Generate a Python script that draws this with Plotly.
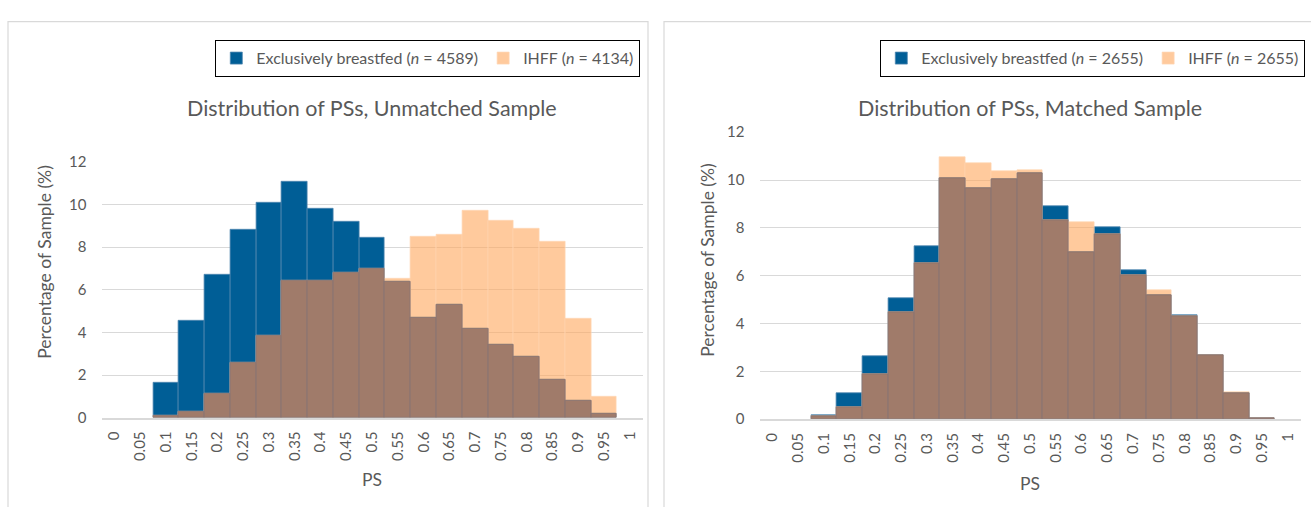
import numpy as np
import plotly.graph_objects as go

W, H = 1311, 507

ps_labels = ["0", "0.05", "0.1", "0.15", "0.2", "0.25", "0.3", "0.35", "0.4", "0.45", "0.5",
             "0.55", "0.6", "0.65", "0.7", "0.75", "0.8", "0.85", "0.9", "0.95", "1"]

unmatched_ebf = [0, 0, 1.66, 4.54, 6.71, 8.81, 10.06, 11.06, 9.79, 9.19, 8.42,
                 6.36, 4.71, 5.31, 4.18, 3.42, 2.84, 1.78, 0.81, 0.17, 0]
unmatched_ihff = [0, 0, 0.08, 0.29, 1.12, 2.58, 3.85, 6.41, 6.43, 6.80, 6.98,
                  6.50, 8.49, 8.58, 9.70, 9.22, 8.88, 8.27, 4.63, 0.97, 0]

matched_ebf = [0, 0, 0.17, 1.08, 2.65, 5.07, 7.22, 10.09, 9.64, 10.05, 10.28,
               8.91, 6.99, 8.01, 6.24, 5.17, 4.35, 2.66, 1.10, 0.05, 0]
matched_ihff = [0, 0, 0.12, 0.51, 1.90, 4.46, 6.52, 10.95, 10.70, 10.35, 10.40,
                8.31, 8.24, 7.73, 6.01, 5.38, 4.31, 2.66, 1.14, 0.04, 0]

n_unmatched = (4589, 4134)
n_matched = (2655, 2655)
titles = ["Distribution of PSs, Unmatched Sample", "Distribution of PSs, Matched Sample"]

BLUE = "#005E96"
ORANGE = "rgba(255,166,92,0.6)"
BROWN = "#A07B6A"
GREY = "#595959"
GRID = "#D9D9D9"
FONT = "Lato"


def nz(v):
    return [None if x == 0 else x for x in v]


fig = go.Figure()

panels = [
    dict(ebf=unmatched_ebf, ihff=unmatched_ihff, n=n_unmatched, xa="x", ya="y", lg="legend"),
    dict(ebf=matched_ebf, ihff=matched_ihff, n=n_matched, xa="x2", ya="y2", lg="legend2"),
]

for p in panels:
    ebf = np.array(p["ebf"], dtype=float)
    ihff = np.array(p["ihff"], dtype=float)
    overlap = np.minimum(ebf, ihff)
    fig.add_trace(go.Bar(
        x=ps_labels, y=nz(list(ebf)), xaxis=p["xa"], yaxis=p["ya"], legend=p["lg"],
        name=f"Exclusively breastfed (<i>n</i> = {p['n'][0]})",
        marker=dict(color=BLUE, line=dict(color="#4F86B0", width=0.8)),
        hoverinfo="skip"))
    fig.add_trace(go.Bar(
        x=ps_labels, y=nz(list(ihff)), xaxis=p["xa"], yaxis=p["ya"], legend=p["lg"],
        name=f"IHFF (<i>n</i> = {p['n'][1]})",
        marker=dict(color=ORANGE, line=dict(color="rgba(255,215,180,0.9)", width=0.8)),
        hoverinfo="skip"))
    fig.add_trace(go.Bar(
        x=ps_labels, y=nz(list(overlap)), xaxis=p["xa"], yaxis=p["ya"],
        showlegend=False, name="overlap",
        marker=dict(color=BROWN, line=dict(color="#857474", width=0.8)),
        hoverinfo="skip"))

# plot-area geometry in pixels
L = dict(x0=101.5, x1=642.7, ybot=422.7, ytop=157.3)
R = dict(x0=759.5, x1=1300.6, ybot=424.3, ytop=126.7)


def xd(g):
    return [g["x0"] / W, g["x1"] / W]


def yd(g):
    return [1 - g["ybot"] / H, 1 - g["ytop"] / H]


xcommon = dict(type="category", range=[-0.5, 20.5], tickangle=-90,
               tickfont=dict(family=FONT, size=15, color=GREY),
               showgrid=False, showline=True, linecolor=GRID, linewidth=1.5,
               ticks="", ticklabelstandoff=6, fixedrange=True)
ycommon = dict(range=[0, 12], dtick=2, showgrid=True, gridcolor=GRID, gridwidth=1,
               zeroline=False, showline=False, ticks="",
               tickfont=dict(family=FONT, size=15, color=GREY),
               ticklabelstandoff=14, fixedrange=True)

legfont = dict(family=FONT, size=16, color=GREY)
fig.update_layout(
    width=W, height=H,
    margin=dict(l=0, r=0, t=0, b=0),
    paper_bgcolor="white", plot_bgcolor="white",
    barmode="overlay", bargap=0,
    xaxis=dict(domain=xd(L), anchor="y", **xcommon),
    yaxis=dict(domain=yd(L), anchor="x", **ycommon),
    xaxis2=dict(domain=xd(R), anchor="y2", **xcommon),
    yaxis2=dict(domain=yd(R), anchor="x2", **ycommon),
    legend=dict(orientation="h", x=640 / W, xanchor="right", y=1 - 31 / H, yanchor="top",
                bordercolor="black", borderwidth=1.3, bgcolor="white",
                font=legfont, itemwidth=30, traceorder="normal"),
    legend2=dict(orientation="h", x=1305 / W, xanchor="right", y=1 - 31 / H, yanchor="top",
                 bordercolor="black", borderwidth=1.3, bgcolor="white",
                 font=legfont, itemwidth=30, traceorder="normal"),
    showlegend=True,
)

ann = []
for g, t in zip([L, R], titles):
    cx = (g["x0"] + g["x1"]) / 2 / W
    ann.append(dict(text=t, x=cx, y=1 - 102 / H, xref="paper", yref="paper",
                    xanchor="center", yanchor="middle", showarrow=False,
                    font=dict(family=FONT, size=21.5, color=GREY)))
ann.append(dict(text="Percentage of Sample (%)", x=45 / W, y=1 - 261 / H, xref="paper", yref="paper",
                textangle=-90, xanchor="center", yanchor="middle", showarrow=False,
                font=dict(family=FONT, size=17.5, color=GREY)))
ann.append(dict(text="Percentage of Sample (%)", x=708 / W, y=1 - 259 / H, xref="paper", yref="paper",
                textangle=-90, xanchor="center", yanchor="middle", showarrow=False,
                font=dict(family=FONT, size=17.5, color=GREY)))
ann.append(dict(text="PS", x=(L["x0"] + L["x1"]) / 2 / W, y=1 - 487 / H, xref="paper", yref="paper",
                xanchor="center", yanchor="middle", showarrow=False,
                font=dict(family=FONT, size=17.5, color=GREY)))
ann.append(dict(text="PS", x=(R["x0"] + R["x1"]) / 2 / W, y=1 - 491 / H, xref="paper", yref="paper",
                xanchor="center", yanchor="middle", showarrow=False,
                font=dict(family=FONT, size=17.5, color=GREY)))
fig.update_layout(annotations=ann)

fig.update_layout(shapes=[
    dict(type="rect", xref="paper", yref="paper", x0=8 / W, x1=648 / W, y0=-0.2, y1=1 - 12 / H,
         line=dict(color=GRID, width=1.2), fillcolor="rgba(0,0,0,0)", layer="below"),
    dict(type="rect", xref="paper", yref="paper", x0=664 / W, x1=1.2, y0=-0.2, y1=1 - 12 / H,
         line=dict(color=GRID, width=1.2), fillcolor="rgba(0,0,0,0)", layer="below"),
])

fig.write_html("out.html", config={"displayModeBar": False})
